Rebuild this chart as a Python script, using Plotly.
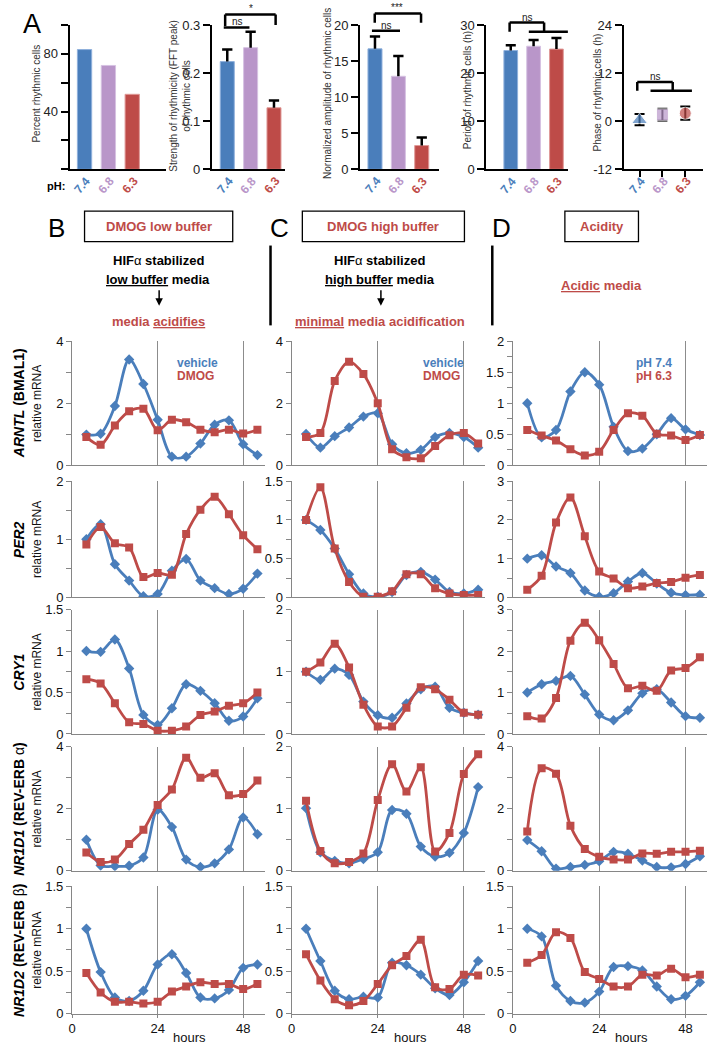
import plotly.graph_objects as go

W, H = 723, 1050
def fx(p): return p / W
def fy(p): return 1 - p / H

FONT = "Liberation Sans, Arial, sans-serif"
BLUE = "#4a7ebb"
RED = "#be4b48"
PURPLE = "#b996c9"
AX = "#868686"

# ---------------- Panel A data ----------------
ph_labels = ["7.4", "6.8", "6.3"]
percent_rhythmic = [83, 72, 52]
fft_strength = [0.224, 0.253, 0.128]
fft_err = [0.025, 0.033, 0.015]
amplitude = [16.7, 12.9, 3.3]
amplitude_err = [1.7, 2.8, 1.1]
period = [24.7, 25.6, 25.0]
period_err = [1.1, 1.3, 2.3]
phase = [0.3, 1.6, 2.0]
phase_err_plus = [1.5, 1.5, 1.7]
phase_err_minus = [1.3, 1.5, 1.6]

# ---------------- Time course data ----------------
hours = [4, 8, 12, 16, 20, 24, 28, 32, 36, 40, 44, 48, 52]

# B: DMOG low buffer
arntl_low_vehicle = [0.99, 1.02, 1.91, 3.41, 2.62, 1.47, 0.28, 0.28, 0.70, 1.31, 1.45, 0.68, 0.33]
arntl_low_dmog = [0.91, 0.66, 1.28, 1.74, 1.82, 1.13, 1.47, 1.39, 1.15, 1.07, 1.15, 1.03, 1.15]
per2_low_vehicle = [1.0, 1.26, 0.57, 0.29, 0.02, 0.06, 0.46, 0.66, 0.29, 0.16, 0.06, 0.15, 0.41]
per2_low_dmog = [0.91, 1.21, 0.93, 0.86, 0.35, 0.42, 0.39, 1.09, 1.51, 1.73, 1.43, 1.07, 0.83]
cry1_low_vehicle = [1.0, 0.99, 1.14, 0.79, 0.23, 0.11, 0.31, 0.60, 0.52, 0.37, 0.16, 0.21, 0.43]
cry1_low_dmog = [0.66, 0.61, 0.37, 0.14, 0.12, 0.04, 0.04, 0.09, 0.23, 0.27, 0.34, 0.37, 0.50]
nr1d1_low_vehicle = [1.0, 0.17, 0.15, 0.16, 0.43, 1.97, 1.41, 0.36, 0.12, 0.24, 0.69, 1.72, 1.18]
nr1d1_low_dmog = [0.59, 0.28, 0.36, 0.86, 1.32, 2.12, 2.62, 3.65, 3.0, 3.15, 2.44, 2.48, 2.91]
nr1d2_low_vehicle = [1.0, 0.49, 0.19, 0.15, 0.27, 0.58, 0.70, 0.48, 0.19, 0.18, 0.28, 0.54, 0.58]
nr1d2_low_dmog = [0.48, 0.25, 0.14, 0.14, 0.12, 0.14, 0.26, 0.32, 0.37, 0.35, 0.35, 0.29, 0.35]

# C: DMOG high buffer
arntl_high_vehicle = [1.01, 0.57, 0.94, 1.22, 1.57, 1.68, 0.68, 0.39, 0.50, 0.91, 1.04, 0.91, 0.57]
arntl_high_dmog = [0.91, 1.04, 2.72, 3.34, 2.94, 2.0, 0.52, 0.26, 0.23, 0.62, 0.97, 1.04, 0.70]
per2_high_vehicle = [1.0, 0.87, 0.63, 0.30, 0.05, 0.01, 0.07, 0.29, 0.33, 0.23, 0.07, 0.05, 0.10]
per2_high_dmog = [1.0, 1.42, 0.63, 0.20, 0.01, 0.01, 0.08, 0.30, 0.30, 0.12, 0.05, 0.03, 0.03]
cry1_high_vehicle = [1.0, 0.87, 1.05, 0.95, 0.52, 0.30, 0.26, 0.49, 0.72, 0.76, 0.42, 0.34, 0.31]
cry1_high_dmog = [1.0, 1.15, 1.45, 1.07, 0.47, 0.12, 0.12, 0.42, 0.75, 0.72, 0.55, 0.34, 0.31]
nr1d1_high_vehicle = [1.01, 0.30, 0.16, 0.12, 0.19, 0.30, 0.98, 0.92, 0.39, 0.23, 0.29, 0.61, 1.35]
nr1d1_high_dmog = [1.13, 0.32, 0.12, 0.14, 0.28, 1.14, 1.72, 1.28, 1.67, 0.31, 0.61, 1.56, 1.88]
nr1d2_high_vehicle = [1.0, 0.62, 0.27, 0.17, 0.20, 0.19, 0.60, 0.57, 0.46, 0.30, 0.22, 0.37, 0.62]
nr1d2_high_dmog = [0.70, 0.39, 0.17, 0.10, 0.15, 0.35, 0.57, 0.68, 0.87, 0.31, 0.29, 0.46, 0.45]

# D: Acidity
arntl_ph74 = [1.0, 0.45, 0.57, 1.19, 1.50, 1.30, 0.62, 0.23, 0.27, 0.50, 0.76, 0.58, 0.49]
arntl_ph63 = [0.57, 0.48, 0.40, 0.26, 0.16, 0.22, 0.57, 0.84, 0.80, 0.51, 0.48, 0.41, 0.49]
per2_ph74 = [1.0, 1.09, 0.80, 0.63, 0.18, 0.02, 0.11, 0.41, 0.63, 0.36, 0.12, 0.06, 0.07]
per2_ph63 = [0.20, 0.56, 1.93, 2.58, 1.58, 0.67, 0.49, 0.24, 0.28, 0.37, 0.40, 0.51, 0.58]
cry1_ph74 = [1.0, 1.2, 1.28, 1.4, 0.95, 0.47, 0.33, 0.57, 0.98, 1.08, 0.76, 0.43, 0.39]
cry1_ph63 = [0.43, 0.37, 0.87, 2.25, 2.68, 2.26, 1.69, 1.10, 1.16, 1.04, 1.53, 1.59, 1.85]
nr1d1_ph74 = [0.99, 0.63, 0.07, 0.12, 0.19, 0.31, 0.61, 0.55, 0.33, 0.12, 0.11, 0.22, 0.47]
nr1d1_ph63 = [1.27, 3.31, 3.13, 1.45, 0.70, 0.45, 0.36, 0.36, 0.56, 0.55, 0.61, 0.61, 0.65]
nr1d2_ph74 = [1.0, 0.91, 0.33, 0.15, 0.13, 0.26, 0.55, 0.56, 0.51, 0.32, 0.17, 0.21, 0.37]
nr1d2_ph63 = [0.60, 0.69, 0.96, 0.89, 0.49, 0.41, 0.32, 0.32, 0.46, 0.45, 0.53, 0.43, 0.46]

gene_labels = [
    "<b><i>ARNTL</i> (BMAL1)</b>",
    "<b><i>PER2</i></b>",
    "<b><i>CRY1</i></b>",
    "<b><i>NR1D1</i> (REV-ERB </b>\u03b1<b>)</b>",
    "<b><i>NR1D2</i> (REV-ERB </b>\u03b2<b>)</b>",
]

fig = go.Figure()
layout = dict(
    width=W, height=H, margin=dict(l=0, r=0, t=0, b=0),
    paper_bgcolor="white", plot_bgcolor="white", showlegend=False,
    font=dict(family=FONT, color="#111"),
)
annotations = []
shapes = []

def ann(text, x, y, size, color="black", xref="paper", yref="paper", angle=0, xanchor="center"):
    annotations.append(dict(text=text, x=x, y=y, xref=xref, yref=yref, textangle=angle,
                            xanchor=xanchor, yanchor="middle", showarrow=False,
                            font=dict(size=size, color=color)))

def axname(k, a):
    return f"{a}axis" if k == 1 else f"{a}axis{k}"

def axref(k, a):
    return a if k == 1 else f"{a}{k}"

# ---------------- Panel A ----------------
a_top, a_bot = 18.3, 164.7
a_geom = [(66, 163, -0.625, 3.42), (209, 283, -0.66, 2.49), (358, 437, -0.64, 2.72),
          (485, 567, -1.07, 2.5), (623, 703, -0.7, 2.78)]
a_yr = [([0, 100], [0, 20, 40, 60, 80, 100], ["", "", "40", "", "80", ""]),
        ([0, 0.3], [0, 0.1, 0.2, 0.3], ["0", "0.1", "0.2", "0.3"]),
        ([0, 20], [0, 5, 10, 15, 20], ["0", "5", "10", "15", "20"]),
        ([0, 30], [0, 10, 20, 30], ["0", "10", "20", "30"]),
        ([-12, 24], [-12, 0, 12, 24], ["-12", "0", "12", "24"])]
a_titles = [("Percent rhythmic cells", 33, 88),
            ("Strength of rhythmicity (FFT peak)<br>of rhythmic cells", 177, 90),
            ("Normalized amplitude of rhythmic cells", 326, 88),
            ("Period of rhythmic cells (h)", 466, 84),
            ("Phase of rhythmic cells (h)", 597, 87)]
bar_colors = [BLUE, PURPLE, RED]
edge_colors = ["#8fb0dc", "#d6c2e2", "#e09a98"]
cats = [0, 1, 2]

for i in range(5):
    k = i + 1
    x0, x1, r0, r1 = a_geom[i]
    yr, tv, tt = a_yr[i]
    layout[axname(k, "x")] = dict(
        domain=[fx(x0), fx(x1)], range=[r0, r1], anchor=axref(k, "y"),
        showline=True, linecolor="black", linewidth=2, showgrid=False, zeroline=False,
        tickvals=cats, showticklabels=False,
        ticks="outside" if k == 5 else "", ticklen=6, tickwidth=2, tickcolor="black")
    layout[axname(k, "y")] = dict(
        domain=[fy(a_bot), fy(a_top)], range=yr, anchor=axref(k, "x"),
        showline=True, linecolor="black", linewidth=2, showgrid=False, zeroline=False,
        tickvals=tv, ticktext=tt, ticks="outside", ticklen=7, tickwidth=2, tickcolor="black",
        tickfont=dict(size=13, color="#222"))
    t, tx, ty = a_titles[i]
    ann(t, fx(tx), fy(ty), 10, "#333", angle=-90)
    for j, lab in enumerate(ph_labels):
        ann(f"<b>{lab}</b>", j - 0.08, fy(181), 12, bar_colors[j], xref=axref(k, "x"), angle=-50)

def add_bars(k, vals):
    fig.add_trace(go.Bar(x=cats, y=vals, width=0.6, xaxis=axref(k, "x"), yaxis=axref(k, "y"),
                         marker=dict(color=bar_colors, line=dict(color=edge_colors, width=1))))

def add_err(k, vals, errs):
    xs, ys = [], []
    for c, v, e in zip(cats, vals, errs):
        xs += [c, c, None, c - 0.22, c + 0.22, None]
        ys += [v, v + e, None, v + e, v + e, None]
    fig.add_trace(go.Scatter(x=xs, y=ys, mode="lines", line=dict(color="black", width=2.5),
                             xaxis=axref(k, "x"), yaxis=axref(k, "y"), hoverinfo="skip"))

add_bars(1, percent_rhythmic)
add_bars(2, fft_strength); add_err(2, fft_strength, fft_err)
add_bars(3, amplitude); add_err(3, amplitude, amplitude_err)
add_bars(4, period); add_err(4, period, period_err)

fig.add_trace(go.Scatter(
    x=cats, y=phase, mode="markers", xaxis="x5", yaxis="y5", cliponaxis=False,
    marker=dict(symbol=["triangle-up", "square", "circle"], size=[14, 12, 12], color=bar_colors),
    error_y=dict(type="data", symmetric=False, array=phase_err_plus, arrayminus=phase_err_minus,
                 color="black", thickness=2, width=5)))

# significance brackets
brackets = [
    (2, [[(-0.15, 0.295), (0.95, 0.295)],
         [(-0.09, 0.298), (-0.09, 0.322), (2.07, 0.322), (2.07, 0.30)]],
     [("ns", 0.42, 0.307), ("*", 1.0, 0.334)], 0.3, 0),
    (3, [[(-0.13, 19.2), (1.07, 19.2)],
         [(-0.01, 20.3), (-0.01, 21.6), (1.97, 21.6), (1.97, 20.3)]],
     [("ns", 0.48, 19.9), ("***", 0.95, 22.4)], 20, 0),
    (4, [[(-0.05, 28.6), (-0.05, 30.55), (1.46, 30.55), (1.46, 28.6)],
         [(0.79, 28.6), (2.56, 28.6)]],
     [("ns", 0.72, 31.6)], 30, 0),
    (5, [[(-0.1, 7.6), (-0.1, 9.8), (1.45, 9.8), (1.45, 7.6)],
         [(0.48, 7.6), (2.29, 7.6)]],
     [("ns", 0.7, 11.2)], 24, -12),
]
for k, lines, texts, ymax, ymin in brackets:
    ydom = f"{axref(k, 'y')} domain"
    for pl in lines:
        for (xa, ya), (xb, yb) in zip(pl[:-1], pl[1:]):
            shapes.append(dict(type="line", xref=axref(k, "x"), yref=ydom,
                               x0=xa, x1=xb, y0=(ya - ymin) / (ymax - ymin), y1=(yb - ymin) / (ymax - ymin),
                               line=dict(color="black", width=2.5)))
    for t, xt, yt in texts:
        ann(t, xt, (yt - ymin) / (ymax - ymin), 10, "#222", xref=axref(k, "x"), yref=ydom)

ann("A", fx(28), fy(17), 27)
ann("<b>pH:</b>", fx(52), fy(182), 11)

# ---------------- Headers B / C / D ----------------
for letter, lx in [("B", 53), ("C", 277), ("D", 500)]:
    ann(letter, fx(lx), fy(224), 26)
for (bx0, bx1, txt) in [(81, 230, "DMOG low buffer"), (300, 463, "DMOG high buffer"), (564, 638, "Acidity")]:
    shapes.append(dict(type="rect", xref="paper", yref="paper", x0=fx(bx0), x1=fx(bx1),
                       y0=fy(238), y1=fy(207), line=dict(color="black", width=1.3)))
    ann(f"<b>{txt}</b>", fx((bx0 + bx1) / 2), fy(223), 13, RED)
for cx, mid, red in [(155, "<b><u>low buffer</u> media</b>", "<b>media <u>acidifies</u></b>"),
                     (378, "<b><u>high buffer</u> media</b>", "<b><u>minimal</u> media acidification</b>")]:
    ann("<b>HIF</b>\u03b1<b> stabilized</b>", fx(cx), fy(257), 13)
    ann(mid, fx(cx), fy(276), 13)
    annotations.append(dict(text="", x=fx(cx + 1), y=fy(303), ax=0, ay=-17, xref="paper", yref="paper",
                            showarrow=True, arrowhead=2, arrowsize=1, arrowwidth=1.5, arrowcolor="black"))
    ann(red, fx(cx), fy(319), 13, RED)
ann("<b><u>Acidic</u> media</b>", fx(601), fy(283), 13, RED)
for vx in [268, 491]:
    shapes.append(dict(type="line", xref="paper", yref="paper", x0=fx(vx), x1=fx(vx),
                       y0=fy(323), y1=fy(242), line=dict(color="black", width=2.5)))

# ---------------- Time-course grid ----------------
col_x = [(68.5, 262), (289.3, 484), (511.7, 707)]
row_y = [(339, 465), (481, 599), (611.3, 737.5), (750.5, 876.3), (892, 1021.3)]
series = [
    [(arntl_low_vehicle, arntl_low_dmog), (arntl_high_vehicle, arntl_high_dmog), (arntl_ph74, arntl_ph63)],
    [(per2_low_vehicle, per2_low_dmog), (per2_high_vehicle, per2_high_dmog), (per2_ph74, per2_ph63)],
    [(cry1_low_vehicle, cry1_low_dmog), (cry1_high_vehicle, cry1_high_dmog), (cry1_ph74, cry1_ph63)],
    [(nr1d1_low_vehicle, nr1d1_low_dmog), (nr1d1_high_vehicle, nr1d1_high_dmog), (nr1d1_ph74, nr1d1_ph63)],
    [(nr1d2_low_vehicle, nr1d2_low_dmog), (nr1d2_high_vehicle, nr1d2_high_dmog), (nr1d2_ph74, nr1d2_ph63)],
]
yscales = [
    [(4, 2, 1), (4, 2, 1), (2, 0.5, 0.25)],
    [(2, 1, 0.5), (1.5, 0.5, 0.25), (3, 1, 0.5)],
    [(1.5, 0.5, 0.25), (2, 1, 0.5), (3, 1, 0.5)],
    [(4, 2, 1), (2, 1, 0.5), (4, 2, 1)],
    [(1.5, 0.5, 0.25), (1.5, 0.5, 0.25), (1.5, 0.5, 0.25)],
]

k = 6
for r in range(5):
    y0p, y1p = row_y[r]
    for c in range(3):
        x0p, x1p = col_x[c]
        ymax, dt, mdt = yscales[r][c]
        bottom = (r == 4)
        layout[axname(k, "x")] = dict(
            domain=[fx(x0p), fx(x1p)], range=[0, 54], anchor=axref(k, "y"),
            showline=True, linecolor=AX, linewidth=1.3, zeroline=False,
            tickvals=[0, 24, 48], showgrid=True, gridcolor="#8c8c8c", gridwidth=1.4,
            showticklabels=bottom, ticks="outside" if bottom else "", ticklen=3, tickcolor=AX,
            tickfont=dict(size=13, color="#111"))
        layout[axname(k, "y")] = dict(
            domain=[fy(y1p), fy(y0p)], range=[0, ymax], anchor=axref(k, "x"),
            showline=True, linecolor=AX, linewidth=1.3, zeroline=False, showgrid=False,
            tick0=0, dtick=dt, ticks="outside", ticklen=5, tickcolor=AX,
            minor=dict(dtick=mdt, tick0=0, ticks="outside", ticklen=5, tickcolor=AX, showgrid=False),
            tickfont=dict(size=13, color="#111"))
        blue_vals, red_vals = series[r][c]
        fig.add_trace(go.Scatter(x=hours, y=blue_vals, mode="lines+markers", xaxis=axref(k, "x"),
                                 yaxis=axref(k, "y"), line=dict(color=BLUE, width=2.8, shape="spline", smoothing=0.9),
                                 marker=dict(symbol="diamond", size=8, color=BLUE)))
        fig.add_trace(go.Scatter(x=hours, y=red_vals, mode="lines+markers", xaxis=axref(k, "x"),
                                 yaxis=axref(k, "y"), line=dict(color=RED, width=2.8, shape="spline", smoothing=0.9),
                                 marker=dict(symbol="square", size=8, color=RED)))
        if bottom:
            ann("hours", 33, fy(1045), 13, "#111", xref=axref(k, "x"))
        k += 1
    yc = (y0p + y1p) / 2
    ann(gene_labels[r], fx(15), fy(yc), 14, angle=-90)
    ann("relative mRNA", fx(33), fy(yc), 12, "#111", angle=-90)

# in-plot legends (row 1)
for (lx, t1, t2) in [(172, "vehicle", "DMOG"), (419, "vehicle", "DMOG"), (634, "pH 7.4", "pH 6.3")]:
    ann(f"<b>{t1}</b>", fx(lx), fy(361), 12, BLUE, xanchor="left")
    ann(f"<b>{t2}</b>", fx(lx), fy(374), 12, RED, xanchor="left")

layout["annotations"] = annotations
layout["shapes"] = shapes
fig.update_layout(**layout)
fig.write_html("out.html", config={"displayModeBar": False},
               post_script="document.body.style.margin='0';")
